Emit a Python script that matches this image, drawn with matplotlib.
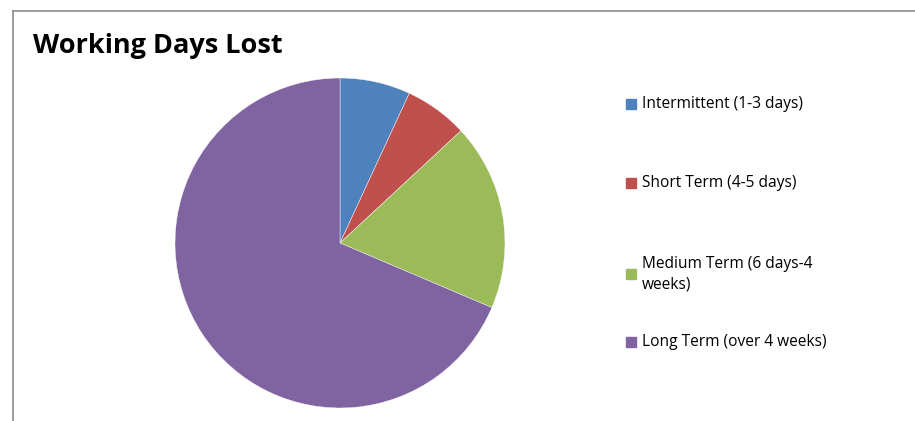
import matplotlib.pyplot as plt
from matplotlib.lines import Line2D

labels = ['Intermittent (1-3 days)', 'Short Term (4-5 days)',
          'Medium Term (6 days-4\nweeks)', 'Long Term (over 4 weeks)']
shares = [6.9, 6.2, 18.3, 68.6]
colors = ['#4f81bd', '#c0504d', '#9bbb59', '#8064a2']

plt.rcParams['font.family'] = ['Open Sans', 'DejaVu Sans']

W, H = 915, 421
fig = plt.figure(figsize=(W / 100, H / 100), dpi=100)

# frame of the chart area (top and left edges visible)
fig.add_artist(Line2D([13 / W, 1], [1 - 11 / H, 1 - 11 / H], color='#8c8c8c', lw=1.2))
fig.add_artist(Line2D([13 / W, 13 / W], [0, 1 - 11 / H], color='#8c8c8c', lw=1.2))

cx, cy, r = 340, 243, 165
ax = fig.add_axes([(cx - r) / W, 1 - (cy + r) / H, 2 * r / W, 2 * r / H])
ax.pie(shares, colors=colors, startangle=90, counterclock=False,
       wedgeprops=dict(linewidth=0.3, edgecolor='white'))
ax.set_xlim(-1, 1)
ax.set_ylim(-1, 1)
ax.set_aspect('equal')

fig.text(33 / W, 1 - 53 / H, 'Working Days Lost', fontsize=19.5, fontweight='bold',
         va='baseline', ha='left')

row_y = [104, 183, 274, 342]
for lab, col, y in zip(labels, colors, row_y):
    fig.patches.append(plt.Rectangle((626 / W, 1 - (y + 5) / H), 10 / W, 10 / H,
                                     transform=fig.transFigure, color=col))
    fig.text(642 / W, 1 - y / H, lab, fontsize=11.2, va='center', ha='left',
             linespacing=1.35, color='black')

fig.savefig('out.png', dpi=100)
